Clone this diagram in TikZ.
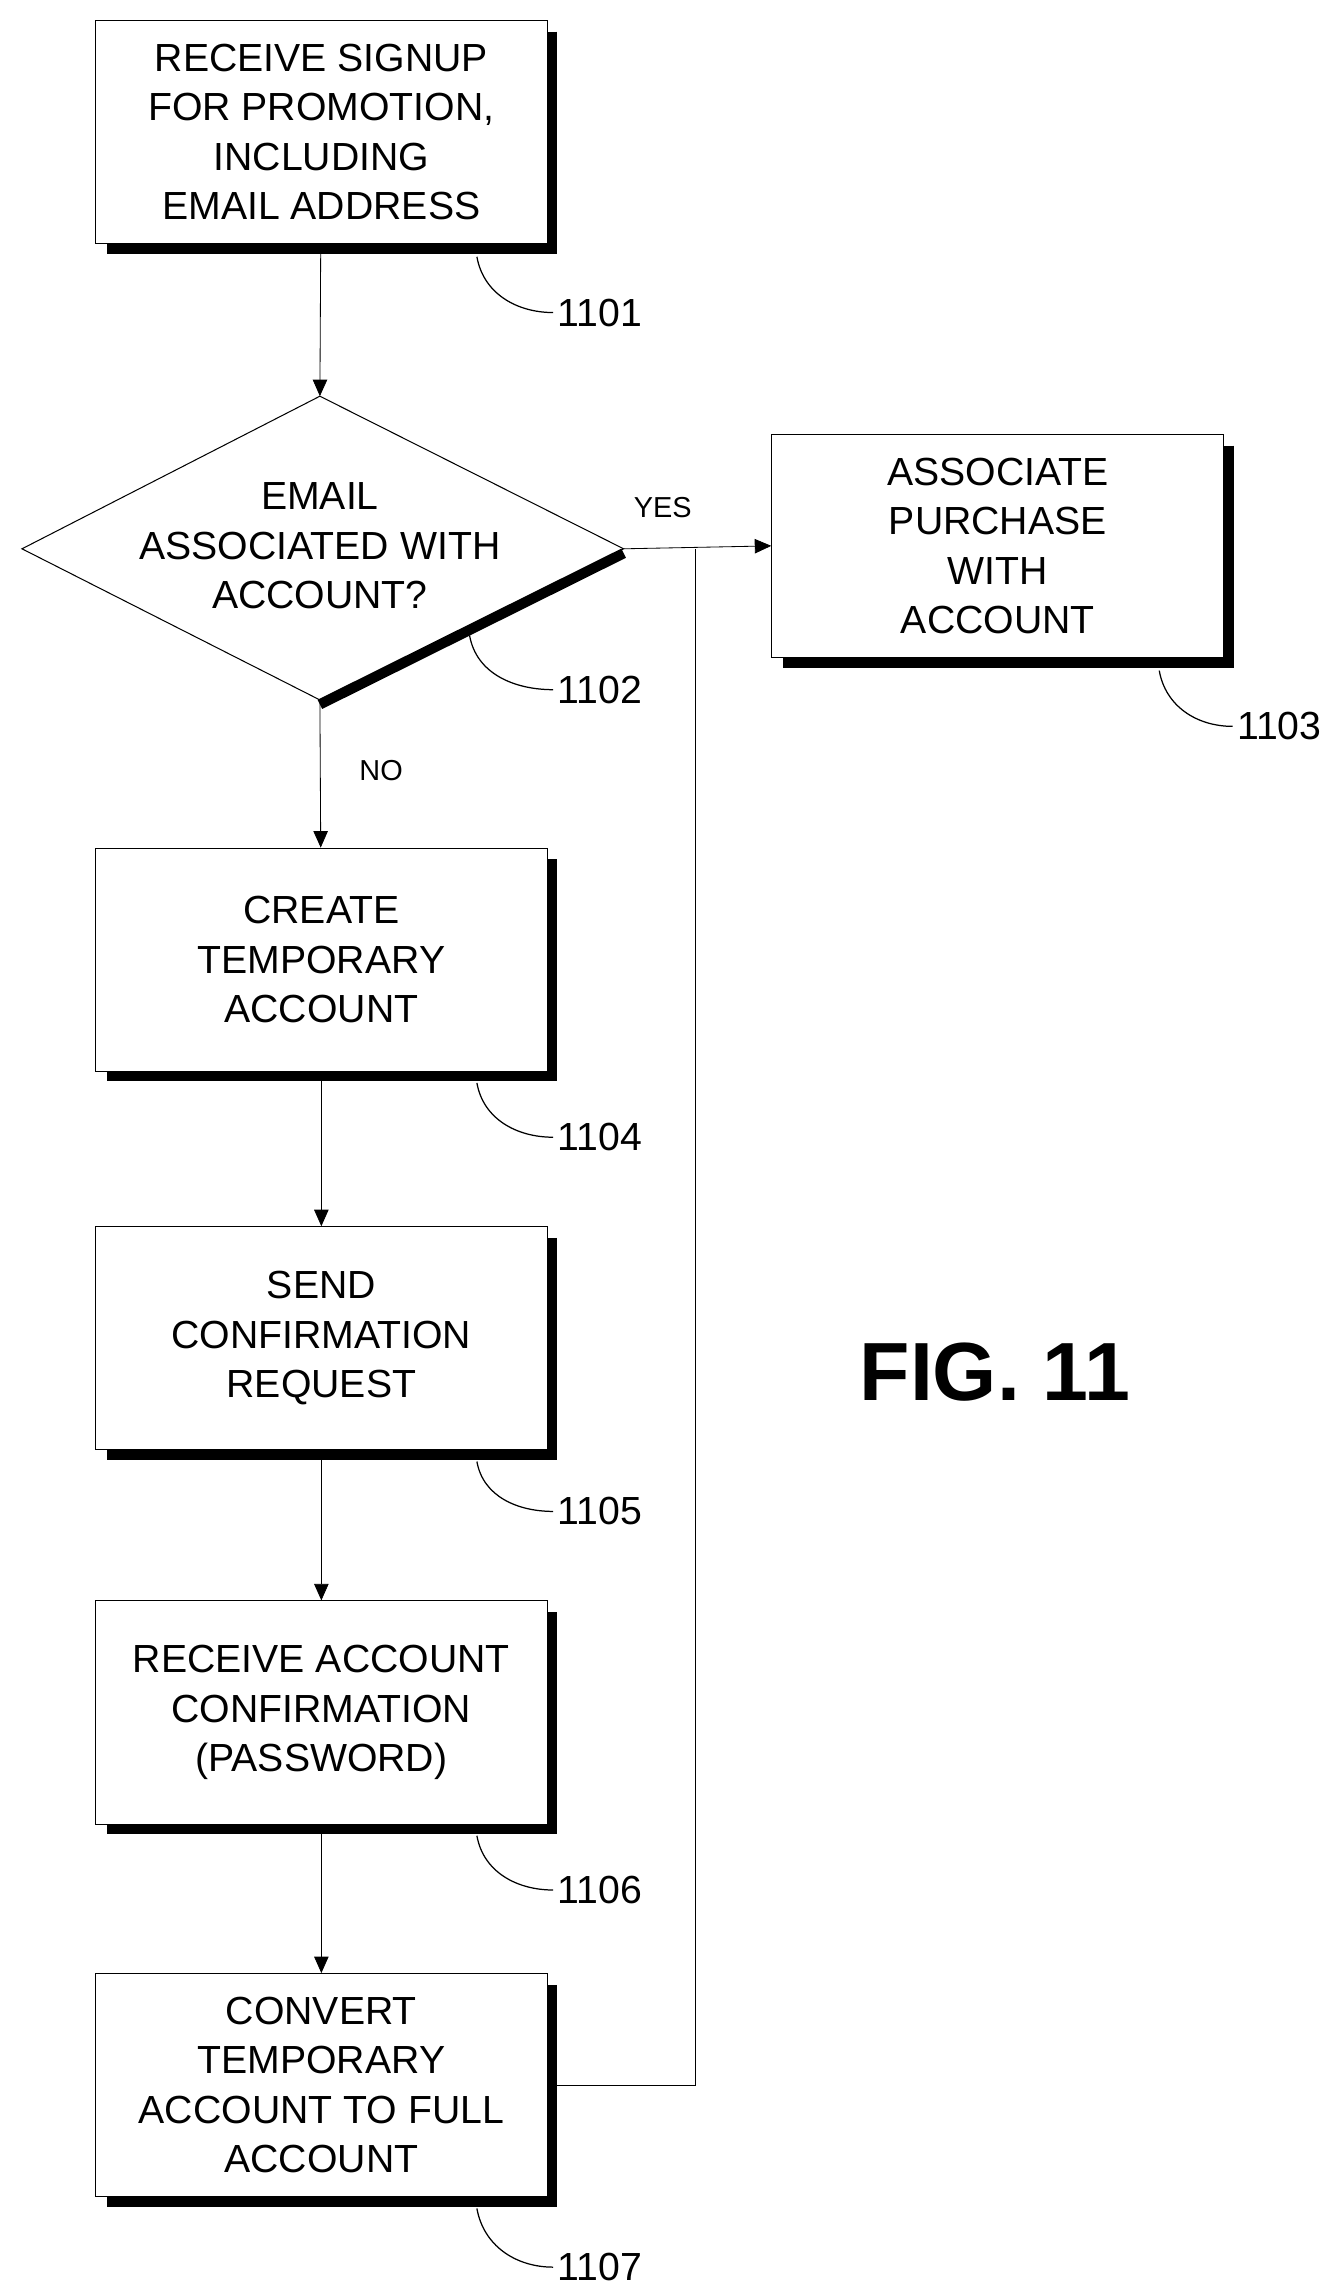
\documentclass[tikz,border=0pt]{standalone}
\usepackage{fontspec}
\setmainfont{Liberation Sans}
\usetikzlibrary{calc}
\usetikzlibrary{positioning}
\usetikzlibrary{shapes.geometric}
\usetikzlibrary{arrows.meta}

\begin{document}
\begin{tikzpicture}[->, >={Triangle[length=8pt,width=7pt]}, draw=black, x=0.025cm, y=-0.025cm, font=\fontsize{19}{24}\selectfont]
\tikzstyle{block}=[draw=black,rectangle,fill=white,minimum width=7.7cm,minimum height=3.8cm,inner sep=0pt,align=center,line width=0.5pt]
\tikzstyle{shade}=[-,line width=5pt,line cap=butt]
\tikzstyle{lead}=[-,line width=0.6pt]
\tikzstyle{annot}=[anchor=west,inner sep=2pt]

\useasboundingbox (0,0) rectangle (912,1564);

\node[block] (signup) at (219,90) {RECEIVE SIGNUP\\FOR PROMOTION,\\INCLUDING\\EMAIL ADDRESS};
\node[block] (assoc) at (680,372) {ASSOCIATE\\PURCHASE\\WITH\\ACCOUNT};
\node[block] (temp) at (219,654) {CREATE\\TEMPORARY\\ACCOUNT};
\node[block] (send) at (219,912) {SEND\\CONFIRMATION\\REQUEST};
\node[block] (recv) at (219,1167) {RECEIVE ACCOUNT\\CONFIRMATION\\(PASSWORD)};
\node[block] (conv) at (219,1421) {CONVERT\\TEMPORARY\\ACCOUNT TO FULL\\ACCOUNT};

% decision
\coordinate (dtop) at (218,270);
\coordinate (dleft) at (15,374);
\coordinate (dright) at (425,374);
\coordinate (dbot) at (218,477);
\draw[-,line width=0.5pt] (dtop) -- (dright) -- (dbot) -- (dleft) -- cycle;
\draw[shade] ($(dright)+(0,3)$) -- ($(dbot)+(0,3)$);
\node[align=center] (email) at (218,372) {EMAIL\\ASSOCIATED WITH\\ACCOUNT?};

% shadows
\foreach \b in {signup,assoc,temp,send,recv,conv}{
  \draw[shade] ($(\b.north east)+(3,8)$) -- ($(\b.south east)+(3,3)$) -- ($(\b.south west)+(8,3)$);
}

% connectors
\path (signup) edge (dtop);
\draw[->] (dright) -- (assoc.west);
\path (dbot) edge (temp);
\path (temp) edge (send);
\path (send) edge (recv);
\path (recv) edge (conv);
\coordinate (join) at (474,374);
\draw[-] (conv.east) -| (join);

\node[anchor=west,font=\fontsize{14}{16}\selectfont] at (427,346) {YES};
\node[anchor=west,font=\fontsize{14}{16}\selectfont] at (240,525) {NO};

% reference numbers
\node[annot] (n1101) at (377,213) {1101};
\node[annot] (n1102) at (377,470) {1102};
\node[annot] (n1103) at (840,495) {1103};
\node[annot] (n1104) at (377,775) {1104};
\node[annot] (n1105) at (377,1030) {1105};
\node[annot] (n1106) at (377,1288) {1106};
\node[annot] (n1107) at (377,1545) {1107};
\draw[lead] (325,175) to[out=-80,in=180] (n1101.west);
\draw[lead] (320,433) to[out=-80,in=180] (n1102.west);
\draw[lead] (790,457) to[out=-80,in=180] (n1103.west);
\draw[lead] (325,738) to[out=-80,in=180] (n1104.west);
\draw[lead] (325,996) to[out=-80,in=180] (n1105.west);
\draw[lead] (325,1251) to[out=-80,in=180] (n1106.west);
\draw[lead] (325,1505) to[out=-80,in=180] (n1107.west);

\node[font=\fontsize{40}{44}\selectfont\bfseries] (fig) at (678,935) {FIG. 11};
\end{tikzpicture}
\end{document}
